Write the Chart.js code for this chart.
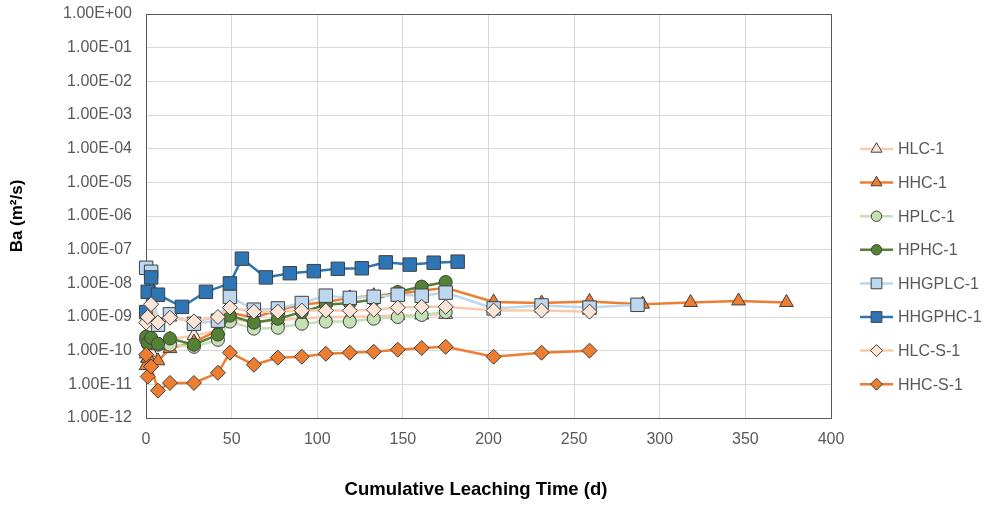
<!DOCTYPE html>
<html>
<head>
<meta charset="utf-8">
<script src="https://cdn.jsdelivr.net/npm/chart.js@4/dist/chart.umd.min.js"></script>
<style>
  html, body { margin: 0; padding: 0; background: #fff; }
  #wrap { width: 984px; height: 505px; position: relative; }
</style>
</head>
<body>
<div id="wrap"><canvas id="chart" width="984" height="505"></canvas></div>
<script>
// Cumulative leaching time (d) for each sampling schedule
const daysMain = [0.08, 1, 3, 7, 14, 28, 42, 49, 63, 77, 91, 105, 119, 133, 147, 161, 175];
const daysHHC = daysMain.concat([203, 231, 259, 290, 318, 346, 374]);
const daysHHGPLC = [0.08, 3, 7, 14, 28, 42, 49, 63, 77, 91, 105, 119, 133, 147, 161, 175, 203, 231, 259, 287];
const daysHHGPHC = [0.08, 1, 3, 7, 21, 35, 49, 56, 70, 84, 98, 112, 126, 140, 154, 168, 182];
const daysS = daysMain.concat([203, 231, 259]);

// Ba (m²/s)
const hlc1 = [8.0e-11, 6.0e-11, 9.0e-11, 1.4e-10, 2.2e-10, 2.8e-10, 4.0e-10, 9.0e-10, 7.0e-10, 8.0e-10, 9.0e-10, 1.0e-9, 1.0e-9, 1.05e-9, 1.1e-9, 1.15e-9, 1.2e-9];
const hhc1 = [3.6e-11, 6.0e-11, 4.5e-11, 5.0e-11, 1.15e-10, 1.8e-10, 4.0e-10, 1.35e-9, 9.5e-10, 1.6e-9, 2.3e-9, 2.8e-9, 3.7e-9, 4.3e-9, 4.9e-9, 6.0e-9, 7.4e-9,
              2.8e-9, 2.6e-9, 2.9e-9, 2.4e-9, 2.7e-9, 3.0e-9, 2.7e-9];
const hplc1 = [2.1e-10, 1.6e-10, 1.9e-10, 1.5e-10, 1.5e-10, 1.3e-10, 2.1e-10, 7.3e-10, 4.5e-10, 4.8e-10, 6.3e-10, 7.3e-10, 7.3e-10, 8.9e-10, 1.0e-9, 1.15e-9, 1.4e-9];
const hphc1 = [2.6e-10, 1.7e-10, 2.4e-10, 1.6e-10, 2.3e-10, 1.5e-10, 3.0e-10, 1.1e-9, 6.8e-10, 8.9e-10, 1.4e-9, 2.3e-9, 2.6e-9, 3.3e-9, 5.5e-9, 8.0e-9, 1.1e-8];
const hhgplc1 = [2.9e-8, 2.2e-8, 5.9e-10, 1.2e-9, 6.3e-10, 7.8e-10, 4.0e-9, 1.65e-9, 1.8e-9, 2.6e-9, 4.3e-9, 3.7e-9, 4.0e-9, 4.6e-9, 4.3e-9, 5.3e-9,
                 1.8e-9, 2.2e-9, 1.9e-9, 2.3e-9];
const hhgphc1 = [1.4e-9, 5.6e-9, 1.5e-8, 4.6e-9, 2.0e-9, 5.6e-9, 1.0e-8, 5.4e-8, 1.5e-8, 2.0e-8, 2.3e-8, 2.7e-8, 2.8e-8, 4.2e-8, 3.6e-8, 4.1e-8, 4.4e-8];
const hlcS1 = [6.8e-10, 1.0e-9, 2.4e-9, 6.8e-10, 9.5e-10, 7.4e-10, 1.0e-9, 1.9e-9, 1.44e-9, 1.44e-9, 1.55e-9, 1.55e-9, 1.55e-9, 1.65e-9, 1.9e-9, 2.0e-9, 2.0e-9,
               1.55e-9, 1.55e-9, 1.44e-9];
const hhcS1 = [7.6e-11, 1.7e-11, 3.4e-11, 6.5e-12, 1.1e-11, 1.1e-11, 2.2e-11, 8.7e-11, 3.8e-11, 6.2e-11, 6.6e-11, 8.1e-11, 8.7e-11, 9.3e-11, 1.07e-10, 1.2e-10, 1.3e-10,
               6.6e-11, 8.7e-11, 1.0e-10];

const yDecades = [1e-12, 1e-11, 1e-10, 1e-9, 1e-8, 1e-7, 1e-6, 1e-5, 1e-4, 1e-3, 1e-2, 1e-1, 1];

const FONT = "'Liberation Sans', Arial, sans-serif";
const EDGE = "#404040";

function pts(xs, ys) {
    return ys.map((v, i) => ({ x: xs[i], y: v }));
}

function sciLabel(v) {
    // 1.00E-05 style, two-digit exponent like Excel
    const [m, e] = v.toExponential(2).toUpperCase().split("E");
    const n = parseInt(e, 10);
    const sign = n < 0 ? "-" : "+";
    return `${m}E${sign}${String(Math.abs(n)).padStart(2, "0")}`;
}

function series(label, xs, ys, line, fill, style, radius) {
    return {
        label,
        data: pts(xs, ys),
        showLine: true,
        borderColor: line,
        borderWidth: 2.5,
        pointStyle: style,
        pointRadius: radius,
        pointBackgroundColor: fill,
        pointBorderColor: EDGE,
        pointBorderWidth: 1,
        clip: false,
    };
}

const datasets = [
    series("HLC-1", daysMain, hlc1, "#F8CBAD", "#FCE4D6", "triangle", 8),
    series("HHC-1", daysHHC, hhc1, "#ED7D31", "#ED7D31", "triangle", 8),
    series("HPLC-1", daysMain, hplc1, "#C5E0B4", "#C5E0B4", "circle", 6.5),
    series("HPHC-1", daysMain, hphc1, "#548235", "#548235", "circle", 6.5),
    series("HHGPLC-1", daysHHGPLC, hhgplc1, "#BDD7EE", "#BDD7EE", "rect", 9.5),
    series("HHGPHC-1", daysHHGPHC, hhgphc1, "#2E75B6", "#2E75B6", "rect", 9.5),
    series("HLC-S-1", daysS, hlcS1, "#F8CBAD", "#FCE4D6", "rectRot", 7.5),
    series("HHC-S-1", daysS, hhcS1, "#ED7D31", "#ED7D31", "rectRot", 7.5),
];
// later series sit on top, as in the spreadsheet
datasets.forEach((d, i) => { d.order = datasets.length - i; });

// plot frame on all four sides, under the markers
const framePlugin = {
    id: "frame",
    beforeDatasetsDraw(chart) {
        const { ctx, chartArea: a } = chart;
        ctx.save();
        ctx.strokeStyle = "#595959";
        ctx.lineWidth = 1;
        ctx.strokeRect(a.left + 0.5, a.top + 0.5, a.right - a.left, a.bottom - a.top);
        ctx.restore();
    },
};

// x title is centred on the whole figure, not on the plot
const xTitlePlugin = {
    id: "xTitle",
    afterDraw(chart) {
        const { ctx } = chart;
        ctx.save();
        ctx.fillStyle = "#000";
        ctx.font = `bold 18.5px ${FONT}`;
        ctx.textAlign = "center";
        ctx.textBaseline = "middle";
        ctx.fillText("Cumulative Leaching Time (d)", 476, 490);
        ctx.restore();
    },
};

// Excel-style legend: short line with the marker in the middle
const legendPlugin = {
    id: "sideLegend",
    afterDraw(chart) {
        const { ctx } = chart;
        const x0 = 860, x1 = 893, top = 149, step = 33.6;
        ctx.save();
        chart.data.datasets.forEach((ds, i) => {
            const y = top + i * step;
            ctx.strokeStyle = ds.borderColor;
            ctx.lineWidth = 2.5;
            ctx.beginPath();
            ctx.moveTo(x0, y);
            ctx.lineTo(x1, y);
            ctx.stroke();
            ctx.fillStyle = ds.pointBackgroundColor;
            ctx.strokeStyle = ds.pointBorderColor;
            ctx.lineWidth = 1;
            Chart.helpers.drawPoint(ctx, {
                pointStyle: ds.pointStyle,
                radius: ds.pointRadius * 0.8,
                rotation: 0,
                borderWidth: 1,
            }, (x0 + x1) / 2, y);
            ctx.fillStyle = "#595959";
            ctx.font = `16px ${FONT}`;
            ctx.textBaseline = "middle";
            ctx.textAlign = "left";
            ctx.fillText(ds.label, 898, y + 1);
        });
        ctx.restore();
    },
};

new Chart(document.getElementById("chart"), {
    type: "scatter",
    data: { datasets },
    options: {
        responsive: false,
        animation: false,
        layout: { padding: { top: 14, right: 153, left: 0, bottom: 0 } },
        plugins: {
            legend: { display: false },
            tooltip: { enabled: false },
        },
        scales: {
            x: {
                type: "linear",
                min: 0,
                max: 400,
                ticks: {
                    stepSize: 50,
                    padding: 12,
                    color: "#595959",
                    font: { family: FONT, size: 16 },
                },
                grid: { color: "#D9D9D9", drawTicks: false },
                border: { display: false },
                afterFit(s) { s.height = 87; s.paddingLeft = 0; s.paddingRight = 0; },
            },
            y: {
                type: "logarithmic",
                min: 1e-12,
                max: 1,
                afterBuildTicks(s) { s.ticks = yDecades.map(v => ({ value: v })); },
                ticks: {
                    padding: 14,
                    color: "#595959",
                    font: { family: FONT, size: 16 },
                    callback: v => sciLabel(v),
                },
                grid: { color: "#D9D9D9", drawTicks: false },
                border: { display: false },
                title: {
                    display: true,
                    text: "Ba (m²/s)",
                    color: "#000",
                    font: { family: FONT, size: 17, weight: "bold" },
                    padding: { top: 7, bottom: 0 },
                },
                afterFit(s) { s.width = 146; s.paddingTop = 0; s.paddingBottom = 0; },
            },
        },
    },
    plugins: [framePlugin, xTitlePlugin, legendPlugin],
});
</script>
</body>
</html>
